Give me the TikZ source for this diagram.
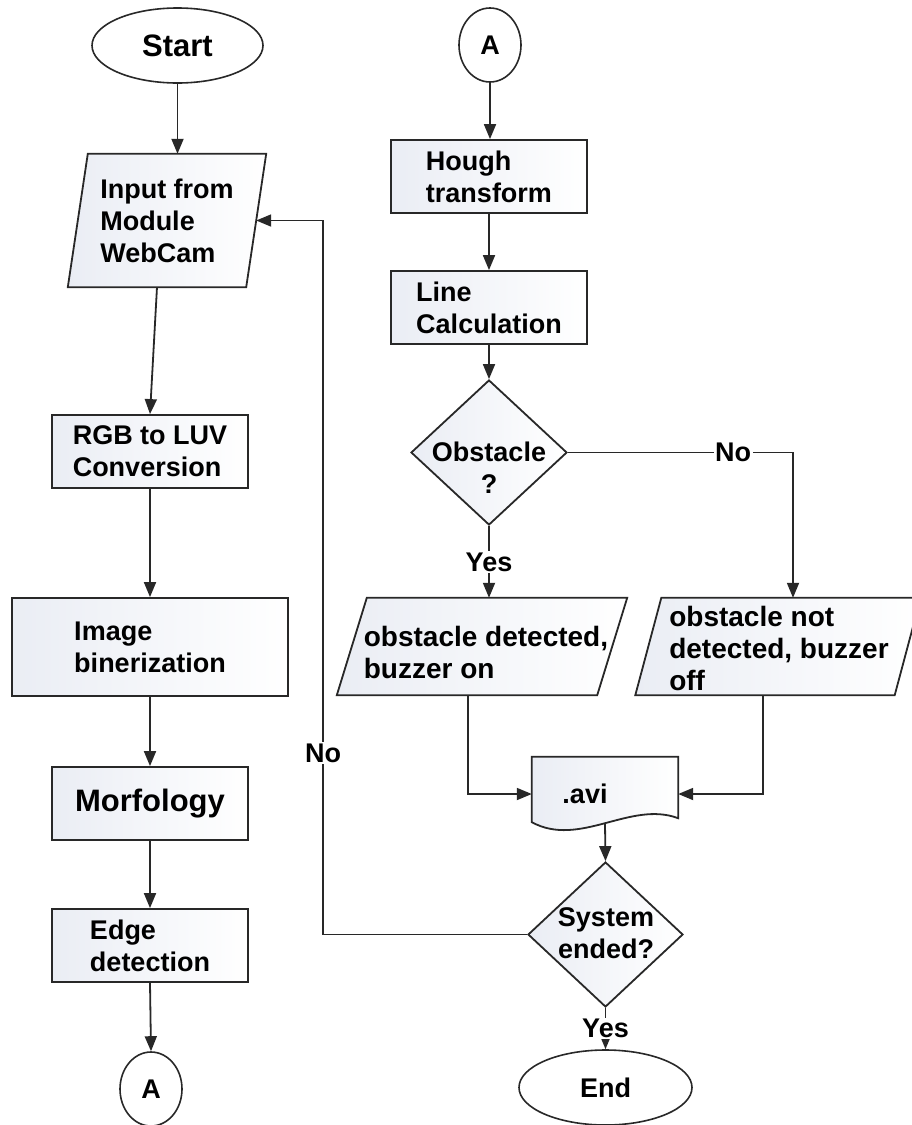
\documentclass[tikz,border=0pt]{standalone}
\usepackage{fontspec}
\setmainfont{Liberation Sans}
\usetikzlibrary{shapes.geometric,arrows.meta,calc,backgrounds}
\definecolor{ln}{RGB}{40,40,40}
\definecolor{boxfill}{RGB}{234,237,244}
\begin{document}
\begin{tikzpicture}[x=1pt,y=1pt,
  every node/.style={font=\fontsize{27}{32}\selectfont\bfseries, text=black},
  shp/.style={draw=ln, line width=1.8pt, left color=boxfill, right color=white},
  box/.style={shp, rectangle, inner sep=0pt, align=left},
  term/.style={draw=ln, line width=1.6pt, ellipse, fill=white, inner sep=0pt},
  dec/.style={shp, diamond, inner sep=0pt},
  ghost/.style={rectangle, inner sep=0pt, align=left},
  arr/.style={draw=ln, line width=1.8pt, -{Triangle[length=15pt,width=12pt]}},
  lbl/.style={fill=white, inner sep=1.5pt},
  big/.style={font=\fontsize{31}{36}\selectfont\bfseries},
  par/.style={font=\fontsize{28}{32}\selectfont\bfseries, align=left},
]
\useasboundingbox (0,0) rectangle (912,-1125);

% left column
\node[term, big, minimum width=171pt, minimum height=75pt] (start) at (177.5,-45.5) {Start};
\node[ghost, minimum width=178pt, minimum height=133pt] (in) at (167,-220.5) {Input from\\Module\\WebCam};
\node[box, minimum width=196pt, minimum height=73pt] (rgb) at (150,-451.5) {RGB to LUV\\Conversion};
\node[box, minimum width=276pt, minimum height=98pt] (bin) at (150,-647) {Image\\binerization};
\node[box, big, minimum width=196pt, minimum height=73pt] (morf) at (150,-803.5) {Morfology};
\node[box, minimum width=196pt, minimum height=73pt] (edge) at (150,-945.5) {Edge\\detection};
\node[term, minimum width=62pt, minimum height=74pt] (abot) at (151,-1089) {A};

% right column
\node[term, minimum width=62pt, minimum height=74pt] (atop) at (490,-45) {A};
\node[box, minimum width=196pt, minimum height=73pt] (hough) at (489,-176.5) {Hough\\transform};
\node[box, minimum width=196pt, minimum height=73pt] (line) at (489,-307.5) {Line\\Calculation};
\node[dec, minimum width=156pt, minimum height=145pt] (obs) at (489,-452.5) {};
\node[align=center] (obstxt) at (489,-468) {Obstacle\\?};
\node[ghost, minimum width=260pt, minimum height=97pt] (det) at (482,-646.5) {};
\node[par] (dettxt) at (486,-652) {obstacle detected,\\buzzer on};
\node[ghost, minimum width=259pt, minimum height=97pt] (nd) at (778,-646.5) {};
\node[par] (ndtxt) at (779,-648) {obstacle not\\detected, buzzer\\off};
\node[ghost, minimum width=146pt, minimum height=74pt] (avi) at (605,-794) {};
\node (avitxt) at (585,-794) {.avi};
\coordinate (avib) at ($(avi.south)+(0,8)$);
\node[dec, minimum width=155pt, minimum height=145pt] (sys) at (605.5,-934.5) {};
\node[align=center] (systxt) at (606,-933) {System\\ended?};
\node[term, minimum width=173pt, minimum height=75pt] (endn) at (605.5,-1087.5) {End};

\begin{pgfonlayer}{background}
  \fill[white] (0,0) rectangle (912,-1125);
  \path[shp] ([xshift=10pt]in.north west) -- ([xshift=10pt]in.north east)
     -- ([xshift=-10pt]in.south east) -- ([xshift=-10pt]in.south west) -- cycle;
  \path[shp] ([xshift=15pt]det.north west) -- ([xshift=15pt]det.north east)
     -- ([xshift=-15pt]det.south east) -- ([xshift=-15pt]det.south west) -- cycle;
  \path[shp] ([xshift=13pt]nd.north west) -- ([xshift=13pt]nd.north east)
     -- ([xshift=-13pt]nd.south east) -- ([xshift=-13pt]nd.south west) -- cycle;
  \path[shp] (avi.north west) -- (avi.north east) -- ($(avi.south east)+(0,13)$)
     .. controls ($(avi.south east)+(-48,31)$) and ($(avi.south west)+(48,-17)$) .. ($(avi.south west)+(0,9)$) -- cycle;
\end{pgfonlayer}

% connectors
\draw[arr] (start.south) -- (start.south |- in.north);
\draw[arr] ([xshift=-10pt]in.south) -- (rgb.north);
\draw[arr] (rgb.south) -- (bin.north);
\draw[arr] (bin.south) -- (morf.north);
\draw[arr] (morf.south) -- (edge.north);
\draw[arr] (edge.south) -- (abot.north);
\draw[arr] (atop.south) -- (atop.south |- hough.north);
\draw[arr] (hough.south) -- (line.north);
\draw[arr] (line.south) -- (obs.north);
\draw[arr] (obs.south) -- node[lbl] {Yes} (obs.south |- det.north);
\draw[arr] (obs.east) -| node[lbl, pos=0.367] {No} ([xshift=15pt]nd.north);
\draw[arr] ([xshift=-14pt]det.south) |- (avi.west);
\draw[arr] ([xshift=-15pt]nd.south) |- (avi.east);
\draw[arr] (avib) -- (sys.north);
\draw[arr] (sys.south) -- node[lbl] {Yes} (endn.north);
\draw[arr] (sys.west) -- ++(-204,0) |- node[lbl, pos=0.127] {No} (in.east);
\end{tikzpicture}
\end{document}
